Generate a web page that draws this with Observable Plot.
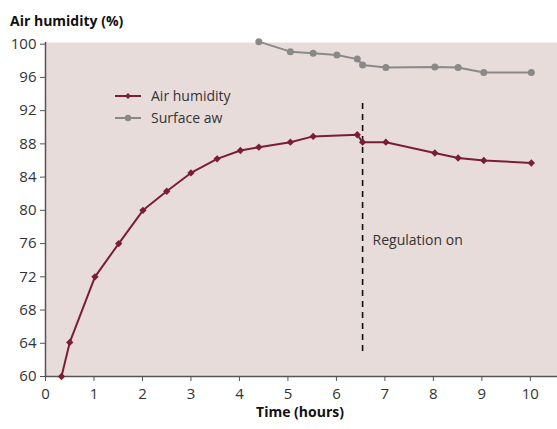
<!DOCTYPE html>
<html><head><meta charset="utf-8">
<script src="https://cdn.jsdelivr.net/npm/d3@7"></script>
<script src="https://cdn.jsdelivr.net/npm/@observablehq/plot@0.6"></script>
<style>
body{margin:0;background:#fff;}
svg{font-family:"Open Sans",sans-serif;}
</style></head>
<body><div id="chart"></div>
<script>
const airTime = [0.33, 0.5, 1.02, 1.51, 2.01, 2.5, 3.0, 3.54, 4.02, 4.4, 5.05, 5.52, 6.43, 6.54, 7.02, 8.03, 8.51, 9.04, 10.02];
const airHumidity = [60, 64.1, 72.0, 76.0, 80.0, 82.3, 84.5, 86.2, 87.2, 87.6, 88.2, 88.9, 89.1, 88.2, 88.2, 86.9, 86.3, 86.0, 85.7];
const awTime = [4.4, 5.05, 5.52, 6.01, 6.43, 6.54, 7.02, 8.03, 8.51, 9.04, 10.02];
const surfaceAw = [100.3, 99.1, 98.9, 98.7, 98.2, 97.5, 97.2, 97.25, 97.2, 96.6, 96.6];
const xTicks = [0,1,2,3,4,5,6,7,8,9,10];
const yTicks = [60,64,68,72,76,80,84,88,92,96,100];
const regulationTime = 6.54;
const regulationSpan = [63.0, 93.0];
const seriesNames = ["Air humidity", "Surface aw"];
const colors = ["#7a1e35", "#898989"];

const air = airTime.map((t,i)=>({t, v: airHumidity[i]}));
const aw = awTime.map((t,i)=>({t, v: surfaceAw[i]}));

const chart = Plot.plot({
  width: 557, height: 429,
  marginLeft: 45, marginRight: 0, marginTop: 42, marginBottom: 53,
  style: {fontSize: "15px", color: "#333", fontFamily: "'Open Sans', sans-serif"},
  x: {domain: [0, 10.56], label: null},
  y: {domain: [60, 100.2], label: null},
  marks: [
    Plot.frame({fill: "#e8dcdb", stroke: null}),
    Plot.ruleX([0], {stroke: "#555", strokeWidth: 1.5}),
    Plot.ruleY([60], {stroke: "#555", strokeWidth: 1.5}),
    Plot.axisX({ticks: xTicks, tickSize: 5, tickPadding: 7, stroke: "#555", fill: "#333", fontSize: 15}),
    Plot.axisY({ticks: yTicks, tickSize: 5, tickPadding: 4, stroke: "#555", fill: "#333", fontSize: 15}),
    Plot.ruleX([regulationTime], {y1: regulationSpan[0], y2: regulationSpan[1], stroke: "#111", strokeWidth: 1.6, strokeDasharray: "6,5"}),
    Plot.text(["Regulation on"], {x: regulationTime, y: 76.4, dx: 10, textAnchor: "start", fill: "#333", fontSize: 14}),
    Plot.line(aw, {x: "t", y: "v", stroke: colors[1], strokeWidth: 2}),
    Plot.dot(aw, {x: "t", y: "v", fill: colors[1], r: 3.5}),
    Plot.line(air, {x: "t", y: "v", stroke: colors[0], strokeWidth: 2}),
    Plot.dot(air, {x: "t", y: "v", fill: colors[0], symbol: "diamond2", r: 3.3})
  ]
});

const svg = d3.select(chart);
svg.append("text").attr("x", 10).attr("y", 26).attr("text-anchor", "start").attr("font-weight", "bold").attr("font-size", 14).attr("fill", "#111").text("Air humidity (%)");
svg.append("text").attr("x", 300).attr("y", 417).attr("text-anchor", "middle").attr("font-weight", "bold").attr("font-size", 14).attr("fill", "#111").text("Time (hours)");
const leg = svg.append("g");
seriesNames.forEach((name, i) => {
  const y = 96 + i * 22;
  leg.append("line").attr("x1", 115).attr("x2", 141).attr("y1", y).attr("y2", y).attr("stroke", colors[i]).attr("stroke-width", 2);
  if (i === 0) {
    leg.append("path").attr("d", d3.symbol(d3.symbolDiamond2, 24)()).attr("transform", `translate(128,${y})`).attr("fill", colors[i]);
  } else {
    leg.append("circle").attr("cx", 128).attr("cy", y).attr("r", 3.2).attr("fill", colors[i]);
  }
  leg.append("text").attr("x", 151).attr("y", y).attr("dy", "0.35em").attr("text-anchor", "start").attr("font-size", 14).attr("fill", "#333").text(name);
});
document.getElementById("chart").appendChild(chart);
</script></body></html>
